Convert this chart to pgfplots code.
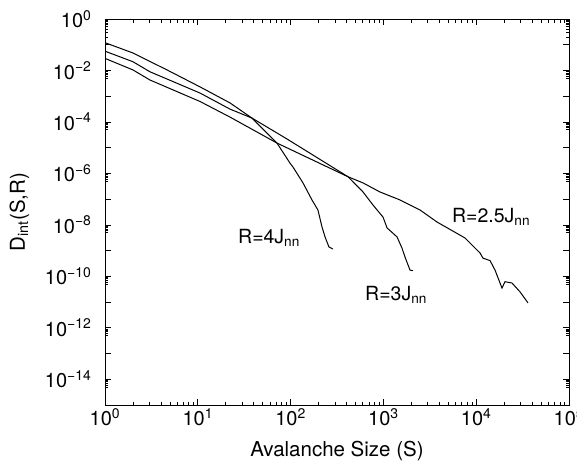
\documentclass[border=0pt]{standalone}
\usepackage{pgfplots}
\pgfplotsset{compat=1.18}
\usepackage{fontspec}
\setmainfont{TeX Gyre Heros}

\begin{document}
\begin{tikzpicture}
\begin{axis}[
    xmode=log, ymode=log,
    scale only axis,
    width=464pt, height=386pt,
    xmin=1, xmax=1e5,
    ymin=1e-15, ymax=1,
    axis line style={line width=0.9pt},
    every tick/.style={black, line width=0.7pt},
    major tick length=6pt, minor tick length=3.5pt,
    xtick={1,10,100,1000,10000,100000},
    xticklabels={10\textsuperscript{0},10\textsuperscript{1},10\textsuperscript{2},10\textsuperscript{3},10\textsuperscript{4},10\textsuperscript{5}},
    minor xtick={2,3,4,5,6,7,8,9,20,30,40,50,60,70,80,90,200,300,400,500,600,700,800,900,
        2000,3000,4000,5000,6000,7000,8000,9000,20000,30000,40000,50000,60000,70000,80000,90000},
    ytick={1,1e-1,1e-2,1e-3,1e-4,1e-5,1e-6,1e-7,1e-8,1e-9,1e-10,1e-11,1e-12,1e-13,1e-14,1e-15},
    yticklabels={10\textsuperscript{0},,10\textsuperscript{−2},,10\textsuperscript{−4},,10\textsuperscript{−6},,10\textsuperscript{−8},,10\textsuperscript{−10},,10\textsuperscript{−12},,10\textsuperscript{−14},},
    minor ytick={
        5e-15,6e-15,7e-15,8e-15,9e-15,
        5e-13,6e-13,7e-13,8e-13,9e-13,
        5e-11,6e-11,7e-11,8e-11,9e-11,
        5e-9,6e-9,7e-9,8e-9,9e-9,
        5e-7,6e-7,7e-7,8e-7,9e-7,
        5e-5,6e-5,7e-5,8e-5,9e-5,
        5e-3,6e-3,7e-3,8e-3,9e-3,
        2e-1,3e-1,4e-1,5e-1,6e-1,7e-1,8e-1,9e-1},
    tick label style={font=\fontsize{20}{23}\selectfont},
    yticklabel style={xshift=-10pt},
    xlabel={Avalanche Size (S)},
    ylabel={D\textsubscript{int}(S,R)},
    label style={font=\fontsize{20.5}{24}\selectfont},
    xlabel style={at={([yshift=-51pt]axis description cs:0.5,0)}, anchor=base},
    ylabel style={at={([xshift=-80pt]axis description cs:0,0.5)}, anchor=base},
]
% R = 4 J_nn
\addplot[black, line width=1pt, no markers] coordinates {
(1,0.120) (2.0,0.0479) (4.66,0.0105) (10.6,2.29e-3) (22.2,5.5e-4)
(38.4,1.41e-4) (71.3,1.51e-5) (98.6,2.5e-6) (106,1.78e-6) (136,4.27e-7)
(170,9.3e-8) (197,3.8e-8) (218,8.3e-9) (235,3.4e-9) (259,1.38e-9) (286,1.15e-9)
};
% R = 3 J_nn
\addplot[black, line width=1pt, no markers] coordinates {
(1,0.0562) (2.0,0.0219) (3.05,8.9e-3) (10.6,1.32e-3) (22.2,3.16e-4)
(38.4,1.41e-4) (91.2,2.19e-5) (416,7.4e-7) (603,1.9e-7) (773,5.9e-8)
(991,2.0e-8) (1096,7.6e-9) (1403,3.4e-9) (1585,1.26e-9) (1710,5.6e-10)
(1936,1.74e-10) (2084,1.66e-10)
};
% R = 2.5 J_nn
\addplot[black, line width=1pt, no markers] coordinates {
(1,0.0295) (2.0,0.0105) (3.05,4.27e-3) (10.6,6.2e-4) (22.2,1.55e-4)
(71.3,1.51e-5) (416,7.4e-7) (603,4.27e-7) (918,1.9e-7) (1510,9.3e-8)
(2477,3.8e-8) (3784,1.29e-8) (7568,3.1e-9) (10990,8.1e-10) (11830,5.1e-10)
(14090,4.1e-10) (15960,1.74e-10) (18970,3.5e-11) (20420,6.2e-11)
(24320,5.5e-11) (29650,2.5e-11) (36140,9.3e-12)
};
\node[anchor=base west, inner sep=0pt, font=\fontsize{19.5}{22}\selectfont] at (axis cs:27.1,1.97e-9) {R=4J\textsubscript{nn}};
\node[anchor=base west, inner sep=0pt, font=\fontsize{19.5}{22}\selectfont] at (axis cs:634,1.2e-11) {R=3J\textsubscript{nn}};
\node[anchor=base west, inner sep=0pt, font=\fontsize{19.5}{22}\selectfont] at (axis cs:5480,1.21e-8) {R=2.5J\textsubscript{nn}};
\end{axis}
\pgfresetboundingbox
\useasboundingbox (-105pt,-62pt) rectangle (472pt,405pt);
\end{tikzpicture}
\end{document}
